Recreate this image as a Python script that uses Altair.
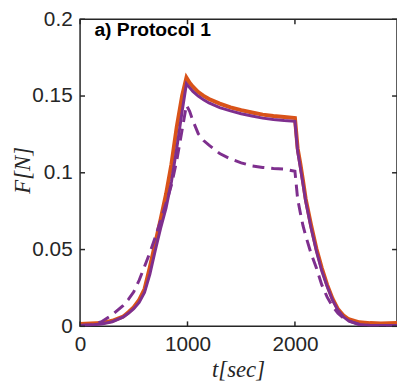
import altair as alt
import pandas as pd

# time grid (s)
t = [0, 100, 200, 300, 400, 450, 500, 550, 600, 650, 700, 750, 800, 850, 900, 950, 990,
     1020, 1050, 1100, 1150, 1200, 1300, 1400, 1500, 1600, 1700, 1800, 1900, 2000,
     2025, 2050, 2075, 2100, 2150, 2200, 2250, 2300, 2350, 2400, 2450, 2500,
     2600, 2700, 2800, 2950]

# measured force (orange, noisy)
f_data = [0.0015, 0.0019, 0.0021, 0.0036, 0.0063, 0.0092, 0.0124, 0.0172, 0.0243, 0.0386, 0.0543, 0.0698, 0.0860, 0.1055, 0.1300, 0.1502, 0.1620,
          0.1586, 0.1561, 0.1526, 0.1501, 0.1481, 0.1451, 0.1426, 0.1408, 0.1393, 0.1379, 0.1370, 0.1363, 0.1357,
          0.1160, 0.1060, 0.0950, 0.0830, 0.0660, 0.0505, 0.0380, 0.0270, 0.0180, 0.0112, 0.0072, 0.0046,
          0.0026, 0.0021, 0.0018, 0.0022]

# model, solid purple
f_model = [0.0005, 0.0008, 0.0015, 0.0030, 0.0060, 0.0085, 0.0115, 0.0155, 0.0220, 0.0340, 0.0495, 0.0640, 0.0770, 0.0940, 0.1160, 0.1400, 0.1580,
           0.1555, 0.1530, 0.1500, 0.1475, 0.1455, 0.1425, 0.1403, 0.1385, 0.1370, 0.1356, 0.1347, 0.1340, 0.1335,
           0.1140, 0.1035, 0.0925, 0.0815, 0.0640, 0.0490, 0.0360, 0.0260, 0.0170, 0.0105, 0.0062, 0.0035,
           0.0012, 0.0006, 0.0005, 0.0005]

# model, dashed purple
f_model2 = [0.0005, 0.0010, 0.0030, 0.0075, 0.0135, 0.0175, 0.0225, 0.0300, 0.0390, 0.0480, 0.0580, 0.0690, 0.0800, 0.0920, 0.1080, 0.1280, 0.1440,
            0.1400, 0.1340, 0.1255, 0.1210, 0.1180, 0.1125, 0.1090, 0.1065, 0.1045, 0.1035, 0.1028, 0.1024, 0.1010,
            0.0830, 0.0740, 0.0655, 0.0590, 0.0475, 0.0380, 0.0270, 0.0190, 0.0130, 0.0085, 0.0055, 0.0035,
            0.0012, 0.0006, 0.0005, 0.0005]

x_ticks = [0, 1000, 2000]
y_ticks = [0, 0.05, 0.1, 0.15, 0.2]

W, H = 321, 311
ORANGE = "#D95319"
PURPLE = "#7E2F8E"
AX = "#262626"

xs = alt.Scale(domain=[0, 2950], nice=False, zero=False)
ys = alt.Scale(domain=[0, 0.2], nice=False, zero=False)

x_axis = alt.Axis(values=x_ticks, format="d", labelFontSize=21, labelFont="Liberation Sans",
                  labelColor=AX, domain=False, ticks=False, grid=False, labelPadding=8,
                  labelFlush=False, title=None)
y_axis = alt.Axis(values=y_ticks, format="~g", labelFontSize=21, labelFont="Liberation Sans",
                  labelColor=AX, domain=False, ticks=False, grid=False, labelPadding=8,
                  labelFlush=False, title=None)

X = alt.X("t:Q", scale=xs, axis=x_axis)
Y = alt.Y("f:Q", scale=ys, axis=y_axis)

d1 = pd.DataFrame({"t": t, "f": f_data})
d2 = pd.DataFrame({"t": t, "f": f_model})
d3 = pd.DataFrame({"t": t, "f": f_model2})

orange = alt.Chart(d1).mark_line(color=ORANGE, strokeWidth=4, clip=True).encode(x=X, y=Y)
solid = alt.Chart(d2).mark_line(color=PURPLE, strokeWidth=3, clip=True).encode(x=X, y=Y)
dashed = alt.Chart(d3).mark_line(color=PURPLE, strokeWidth=3, strokeDash=[12, 7], clip=True).encode(x=X, y=Y)

xt = pd.DataFrame({"t": x_ticks})
yt = pd.DataFrame({"f": y_ticks})
tick_bottom = alt.Chart(xt).mark_rule(color=AX, strokeWidth=1.5).encode(
    x=X, y=alt.value(H), y2=alt.value(H - 5))
tick_top = alt.Chart(xt).mark_rule(color=AX, strokeWidth=1.5).encode(
    x=X, y=alt.value(0), y2=alt.value(5))
tick_left = alt.Chart(yt).mark_rule(color=AX, strokeWidth=1.5).encode(
    y=Y, x=alt.value(0), x2=alt.value(5))
tick_right = alt.Chart(yt).mark_rule(color=AX, strokeWidth=1.5).encode(
    y=Y, x=alt.value(W), x2=alt.value(W - 5))

one = alt.Data(values=[{}])
title_txt = alt.Chart(one).mark_text(text="a) Protocol 1", font="Liberation Sans", fontSize=19.5,
                                     fontWeight="bold", color="black", align="left",
                                     baseline="alphabetic").encode(
    x=alt.value(14.5), y=alt.value(17))
ylab = alt.Chart(one).mark_text(text="F[N]", font="Liberation Serif", fontSize=23, fontStyle="italic",
                                color=AX, align="center", baseline="middle", angle=270).encode(
    x=alt.value(-58), y=alt.value(153))
xlab = alt.Chart(one).mark_text(text="t[sec]", font="Liberation Serif", fontSize=23, fontStyle="italic",
                                color=AX, align="center", baseline="alphabetic").encode(
    x=alt.value(160.5), y=alt.value(362))

chart = alt.layer(orange, solid, dashed, tick_bottom, tick_top, tick_left, tick_right,
                  title_txt, ylab, xlab).properties(
    width=W, height=H,
    autosize=alt.AutoSizeParams(type="none"),
    padding={"left": 73, "top": 9, "right": 0, "bottom": 55},
).configure_view(stroke=AX, strokeWidth=1.5)

chart.save("out.html", embed_options={"renderer": "svg", "actions": False})
